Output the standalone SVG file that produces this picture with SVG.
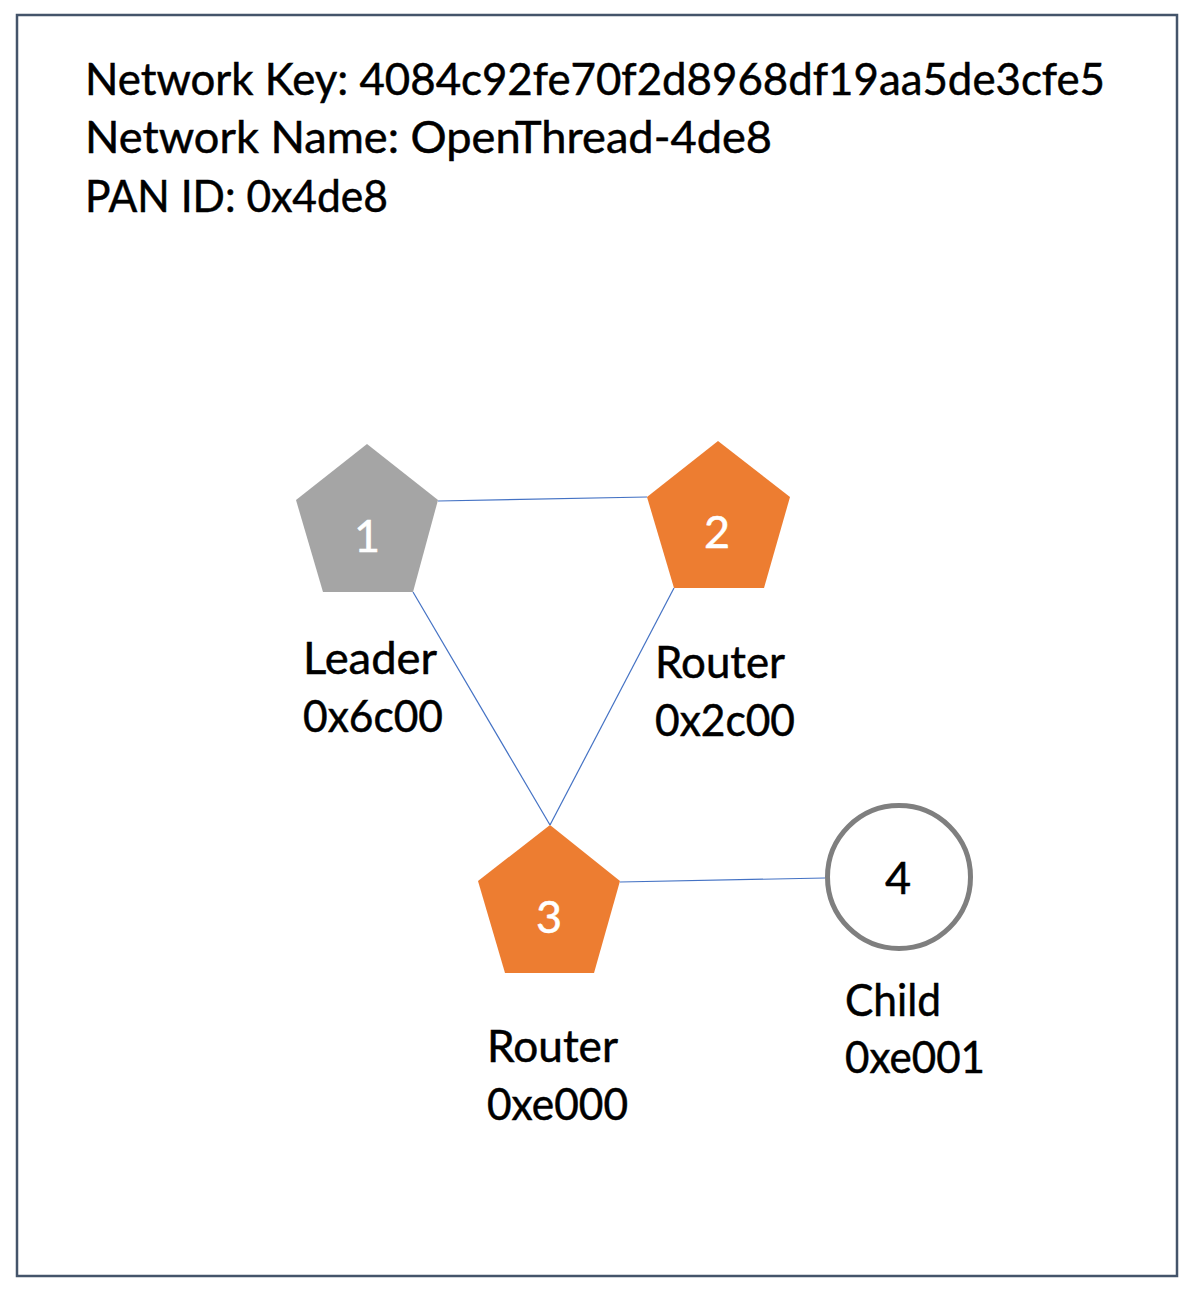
<svg xmlns="http://www.w3.org/2000/svg" width="1198" height="1292" viewBox="0 0 1198 1292">
<style>
.t{font-family:Lato,"Open Sans","Liberation Sans",sans-serif;font-size:44px;fill:#000;stroke:#000;stroke-width:0.5}
.n{font-family:Lato,"Open Sans","Liberation Sans",sans-serif;font-size:45px;text-anchor:middle;stroke-width:0.5}
.w{fill:#fff;stroke:#fff}
.k{fill:#000;stroke:#000}
.link{stroke:#4472C4;stroke-width:1.2;fill:none}
</style>
<rect x="0" y="0" width="1198" height="1292" fill="#fff"/>
<rect x="17" y="15" width="1160" height="1261" fill="#fff" stroke="#44546A" stroke-width="2.5"/>
<g id="header">
<text class="t" x="85" y="95" textLength="1020" lengthAdjust="spacingAndGlyphs">Network Key: 4084c92fe70f2d8968df19aa5de3cfe5</text>
<text class="t" x="85" y="153" textLength="687" lengthAdjust="spacingAndGlyphs">Network Name: OpenThread-4de8</text>
<text class="t" x="85" y="212" textLength="303" lengthAdjust="spacingAndGlyphs">PAN ID: 0x4de8</text>
</g>
<g id="connectors">
<line class="link" x1="438" y1="501" x2="647" y2="497"/>
<line class="link" x1="413" y1="592" x2="550" y2="825"/>
<line class="link" x1="674" y1="588" x2="550" y2="825"/>
<line class="link" x1="620" y1="882" x2="825" y2="878"/>
</g>
<g id="node1">
<polygon points="367,444 438,500 413,592 323,592 296,500" fill="#A5A5A5"/>
<text class="n w" x="367" y="552">1</text>
<text class="t" x="303" y="674" textLength="134" lengthAdjust="spacingAndGlyphs">Leader</text>
<text class="t" x="303" y="732" textLength="140" lengthAdjust="spacingAndGlyphs">0x6c00</text>
</g>
<g id="node2">
<polygon points="718,441 790,497 764,588 674,588 647,497" fill="#ED7D31"/>
<text class="n w" x="717" y="548">2</text>
<text class="t" x="655" y="678" textLength="130" lengthAdjust="spacingAndGlyphs">Router</text>
<text class="t" x="655" y="736" textLength="140" lengthAdjust="spacingAndGlyphs">0x2c00</text>
</g>
<g id="node3">
<polygon points="550,825 620,881 594,973 505,973 478,881" fill="#ED7D31"/>
<text class="n w" x="549" y="933">3</text>
<text class="t" x="487" y="1062" textLength="131" lengthAdjust="spacingAndGlyphs">Router</text>
<text class="t" x="487" y="1120" textLength="141" lengthAdjust="spacingAndGlyphs">0xe000</text>
</g>
<g id="node4">
<circle cx="899" cy="877" r="71.5" fill="#fff" stroke="#7F7F7F" stroke-width="5"/>
<text class="n k" x="898" y="894">4</text>
<text class="t" x="845" y="1016" textLength="96" lengthAdjust="spacingAndGlyphs">Child</text>
<text class="t" x="845" y="1073" textLength="140" lengthAdjust="spacingAndGlyphs">0xe001</text>
</g>
</svg>
